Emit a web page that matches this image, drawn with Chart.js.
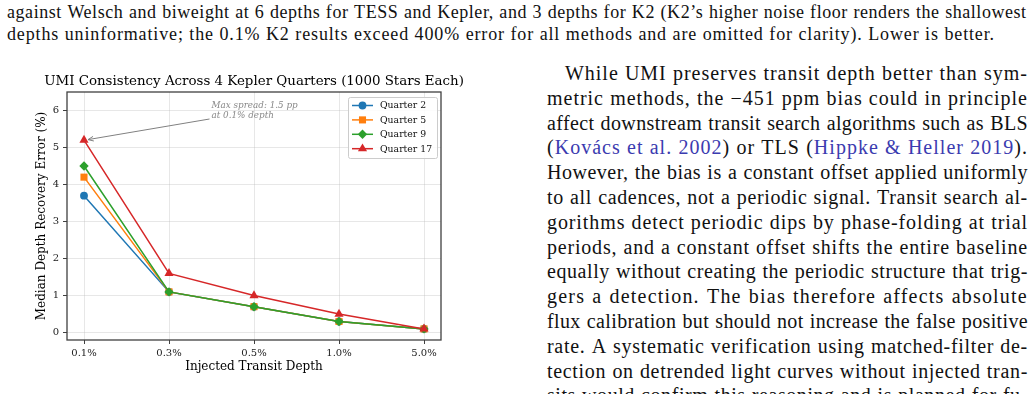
<!DOCTYPE html>
<html><head><meta charset="utf-8">
<script src="https://cdn.jsdelivr.net/npm/chart.js@4.4.0/dist/chart.umd.min.js"></script>
<style>
html,body{margin:0;padding:0;background:#fff;width:1034px;height:394px;overflow:hidden;position:relative;}
.ln{position:absolute;display:flex;justify-content:space-between;white-space:nowrap;font-family:"Liberation Serif",serif;color:#111;}
.ln span{white-space:nowrap;}
.cap{font-size:18px;line-height:22px;left:7px;width:1020px;}
.bd{font-size:20px;line-height:24px;left:547px;width:481px;}
.cite{color:#3b3bb0;}
#wrap{position:absolute;left:0;top:60px;width:480px;height:330px;}
</style></head>
<body>
<div id="text"></div>
<div id="wrap"><canvas id="c" width="480" height="330"></canvas></div>
<script>
// ---- data ----
const chartTitle = 'UMI Consistency Across 4 Kepler Quarters (1000 Stars Each)';
const depthLabels = ['0.1%', '0.3%', '0.5%', '1.0%', '5.0%'];
const quarter2 = [3.7, 1.1, 0.7, 0.3, 0.1];
const quarter5 = [4.2, 1.1, 0.7, 0.3, 0.1];
const quarter9 = [4.5, 1.1, 0.7, 0.3, 0.1];
const quarter17 = [5.2, 1.6, 1.0, 0.5, 0.1];
const seriesNames = ['Quarter 2', 'Quarter 5', 'Quarter 9', 'Quarter 17'];
const yTickValues = [0, 1, 2, 3, 4, 5, 6];
const annotationLines = ['Max spread: 1.5 pp', 'at 0.1% depth'];
const annotationTarget = {x: 0, y: 5.2};
const annotationTextAt = {x: 1.5, y: 6.0};

// ---- page text ----
const captionLines = [
  'against Welsch and biweight at 6 depths for TESS and Kepler, and 3 depths for K2 (K2\u2019s higher noise floor renders the shallowest',
  'depths uninformative; the 0.1% K2 results exceed 400% error for all methods and are omitted for clarity). Lower is better.'
];
// {...} marks citation text
const bodyLines = [
  'While UMI preserves transit depth better than sym-',
  'metric methods, the \u2212451 ppm bias could in principle',
  'affect downstream transit search algorithms such as BLS',
  '({Kov\u00e1cs} {et} {al.} {2002}) or TLS ({Hippke} {&} {Heller} {2019}).',
  'However, the bias is a constant offset applied uniformly',
  'to all cadences, not a periodic signal. Transit search al-',
  'gorithms detect periodic dips by phase-folding at trial',
  'periods, and a constant offset shifts the entire baseline',
  'equally without creating the periodic structure that trig-',
  'gers a detection. The bias therefore affects absolute',
  'flux calibration but should not increase the false positive',
  'rate. A systematic verification using matched-filter de-',
  'tection on detrended light curves without injected tran-',
  'sits would confirm this reasoning and is planned for fu-'
];
const textDiv = document.getElementById('text');
function esc(s) { return s.replace(/&/g, '&amp;').replace(/</g, '&lt;'); }
function addLine(cls, text, top, left, width) {
  const d = document.createElement('div');
  d.className = 'ln ' + cls;
  d.style.top = top + 'px';
  if (left !== undefined) d.style.left = left + 'px';
  if (width !== undefined) d.style.width = width + 'px';
  const words = text.split(' ');
  d.innerHTML = words.map(w => '<span>' + esc(w).replace(/\{([^}]*)\}/g, '<span class="cite">$1</span>') + '</span>').join('');
  textDiv.appendChild(d);
  // fit: spread extra room over letters so that word gaps stay natural
  const fs = parseFloat(getComputedStyle(d).fontSize);
  const spans = [...d.children];
  let ww = 0, nc = 0;
  spans.forEach(s => { ww += s.getBoundingClientRect().width; nc += s.textContent.length; });
  const target = d.getBoundingClientRect().width;
  const gap = 0.31 * fs;
  let ls = (target - ww - (spans.length - 1) * gap) / nc;
  ls = Math.max(-0.6, Math.min(1.2, ls));
  d.style.letterSpacing = ls.toFixed(3) + 'px';
}
addLine('cap', captionLines[0], 1);
addLine('cap', captionLines[1], 23, 7, 988);
bodyLines.forEach((l, i) => {
  if (i === 0) addLine('bd', l, 61, 565, 463);
  else addLine('bd', l, 61 + i * 24.8);
});

// ---- chart ----
const serif = 'DejaVu Serif';
const colors = ['#1f77b4', '#ff7f0e', '#2ca02c', '#d62728'];
const styles = ['circle', 'rect', 'rectRot', 'triangle'];
const radii = [3.9, 5, 4.7, 5.3];
const allSeries = [quarter2, quarter5, quarter9, quarter17];

const datasets = allSeries.map((vals, k) => ({
  label: seriesNames[k],
  data: vals.map((v, i) => ({x: i, y: v})),
  borderColor: colors[k],
  backgroundColor: colors[k],
  borderWidth: 1.5,
  pointStyle: styles[k],
  pointRadius: radii[k],
  pointBorderWidth: 0,
  pointBackgroundColor: colors[k],
  tension: 0,
  order: allSeries.length - 1 - k
}));

const framePlugin = {
  id: 'frame',
  afterDraw(chart) {
    const {ctx, chartArea: a, scales} = chart;
    ctx.save();
    // title centred over the plotting area
    ctx.fillStyle = '#000';
    ctx.font = '13.4px "DejaVu Serif"';
    ctx.textAlign = 'center';
    ctx.textBaseline = 'middle';
    ctx.fillText(chartTitle, (a.left + a.right) / 2, a.top - 10.5);

    ctx.strokeStyle = '#404040';
    ctx.lineWidth = 1.3;
    ctx.strokeRect(a.left, a.top, a.right - a.left, a.bottom - a.top);

    // annotation
    const xs = scales.x, ys = scales.y;
    const tx = xs.getPixelForValue(annotationTextAt.x);
    const ty = ys.getPixelForValue(annotationTextAt.y);
    ctx.fillStyle = '#888';
    ctx.font = 'italic 8.8px "DejaVu Serif"';
    ctx.textAlign = 'left';
    ctx.textBaseline = 'middle';
    ctx.fillText(annotationLines[0], tx, ty - 5);
    ctx.fillText(annotationLines[1], tx, ty + 5.5);
    const sx = tx - 2, sy = ty + 8.5;
    const ex = xs.getPixelForValue(annotationTarget.x) + 4;
    const ey = ys.getPixelForValue(annotationTarget.y) - 0.5;
    ctx.strokeStyle = '#808080';
    ctx.lineWidth = 1;
    ctx.beginPath(); ctx.moveTo(sx, sy); ctx.lineTo(ex, ey); ctx.stroke();
    const ang = Math.atan2(ey - sy, ex - sx);
    const L = 6, spread = 0.4;
    ctx.beginPath();
    ctx.moveTo(ex - L * Math.cos(ang - spread), ey - L * Math.sin(ang - spread));
    ctx.lineTo(ex, ey);
    ctx.lineTo(ex - L * Math.cos(ang + spread), ey - L * Math.sin(ang + spread));
    ctx.stroke();

    // legend
    const bw = 89, bh = 61;
    const bx = a.right - 4 - bw, by = a.top + 5;
    ctx.fillStyle = 'rgba(255,255,255,0.85)';
    ctx.strokeStyle = '#cccccc';
    ctx.lineWidth = 1;
    ctx.beginPath();
    if (ctx.roundRect) ctx.roundRect(bx + 0.5, by + 0.5, bw, bh, 2); else ctx.rect(bx + 0.5, by + 0.5, bw, bh);
    ctx.fill(); ctx.stroke();
    chart.data.datasets.forEach((ds, k) => {
      const ry = by + 8.5 + k * 14.4;
      ctx.strokeStyle = ds.borderColor;
      ctx.lineWidth = 1.5;
      ctx.beginPath(); ctx.moveTo(bx + 4, ry); ctx.lineTo(bx + 25, ry); ctx.stroke();
      ctx.fillStyle = ds.borderColor;
      Chart.helpers.drawPoint(ctx, {pointStyle: ds.pointStyle, radius: ds.pointRadius, rotation: 0, borderWidth: 0}, bx + 14.5, ry);
      ctx.fillStyle = '#111';
      ctx.font = '9.3px "DejaVu Serif"';
      ctx.textAlign = 'left';
      ctx.textBaseline = 'middle';
      ctx.fillText(ds.label, bx + 32, ry + 0.5);
    });
    ctx.restore();
  }
};

new Chart(document.getElementById('c'), {
  type: 'line',
  data: {datasets},
  plugins: [framePlugin],
  options: {
    responsive: false,
    animation: false,
    devicePixelRatio: 1,
    layout: {padding: {left: 0, right: 39, top: 32, bottom: 0}},
    plugins: {
      legend: {display: false},
      tooltip: {enabled: false},
      title: {display: false}
    },
    scales: {
      x: {
        type: 'linear', min: -0.2, max: 4.2,
        afterBuildTicks: s => { s.ticks = depthLabels.map((_, i) => ({value: i})); },
        afterFit: s => { s.height = 50; },
        ticks: {callback: v => depthLabels[v], font: {family: serif, size: 10}, color: '#222', padding: 3, maxRotation: 0, autoSkip: false},
        grid: {color: 'rgba(176,176,176,0.3)', lineWidth: 1, tickLength: 4, tickColor: '#404040', tickWidth: 1},
        border: {display: false},
        title: {display: true, text: 'Injected Transit Depth', font: {family: serif, size: 12}, color: '#000', padding: {top: 0, bottom: 15.8}}
      },
      y: {
        type: 'linear', min: -0.2, max: 6.5,
        afterBuildTicks: s => { s.ticks = yTickValues.map(v => ({value: v})); },
        afterFit: s => { s.width = 67; },
        ticks: {font: {family: serif, size: 10}, color: '#222', padding: 4},
        grid: {color: 'rgba(176,176,176,0.3)', lineWidth: 1, tickLength: 4, tickColor: '#404040', tickWidth: 1},
        border: {display: false},
        title: {display: true, text: 'Median Depth Recovery Error (%)', font: {family: serif, size: 12}, color: '#000', padding: {top: 34.8, bottom: 0}}
      }
    }
  }
});
</script>
</body></html>
